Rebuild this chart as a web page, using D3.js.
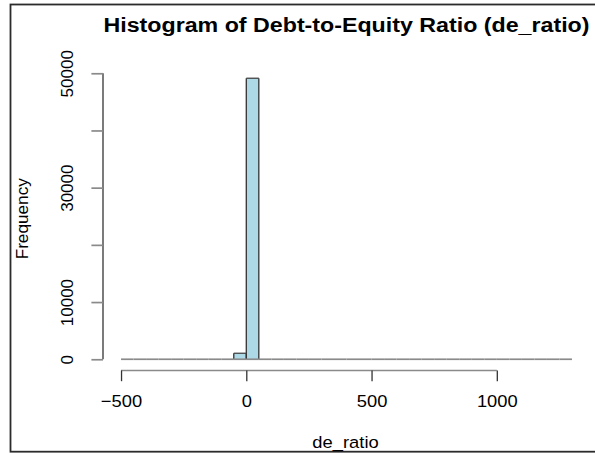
<!DOCTYPE html>
<html>
<head>
<meta charset="utf-8">
<script src="https://cdn.jsdelivr.net/npm/d3@7"></script>
<style>
  html, body { margin: 0; padding: 0; background: #fff; }
  svg { display: block; font-family: "Liberation Sans", Arial, Helvetica, sans-serif; }
</style>
</head>
<body>
<svg id="chart" width="595" height="453"></svg>
<script>
// Histogram bin breaks (width 50) and counts per bin
const binBreaks = [-500, -450, -400, -350, -300, -250, -200, -150, -100, -50, 0,
  50, 100, 150, 200, 250, 300, 350, 400, 450, 500, 550, 600, 650, 700, 750,
  800, 850, 900, 950, 1000, 1050, 1100, 1150, 1200, 1250, 1300];
const binCounts = [0, 0, 0, 0, 0, 0, 0, 0, 0, 1050, 49130,
  0, 0, 0, 0, 0, 0, 0, 0, 0, 0, 0, 0, 0, 0, 0,
  0, 0, 0, 0, 0, 0, 0, 0, 0, 0];
const xTickValues = [-500, 0, 500, 1000];
const yTickValues = [0, 10000, 20000, 30000, 40000, 50000];
const yTickLabelled = [0, 10000, 30000, 50000];

const titleText = "Histogram of Debt-to-Equity Ratio (de_ratio)";
const xLabel = "de_ratio";
const yLabel = "Frequency";

const svg = d3.select("#chart");
const plot = { left: 103, right: 590, top: 67, bottom: 370.5 };
const stretch = 1.08; // horizontal text stretch
const hLine = { stroke: "#8a8a8a", width: 1.7 };  // horizontal strokes
const vLine = { stroke: "#333", width: 1.3 };     // vertical strokes

// R-style 4% padding on both axes
const xLo = d3.min(binBreaks), xHi = d3.max(binBreaks);
const xPad = 0.04 * (xHi - xLo);
const x = d3.scaleLinear().domain([xLo - xPad, xHi + xPad]).range([plot.left, plot.right]);
const yMax = d3.max(binCounts);
const y = d3.scaleLinear().domain([-0.04 * yMax, yMax * 1.04]).range([plot.bottom, plot.top]);

// outer frame
svg.append("rect")
  .attr("x", 10.5).attr("y", 4.5)
  .attr("width", 700).attr("height", 447.2)
  .attr("fill", "none").attr("stroke", "#2b2b2b").attr("stroke-width", 1.8);

// bars
const bins = binCounts.map((c, i) => ({ x0: binBreaks[i], x1: binBreaks[i + 1], n: c }));
const gBars = svg.append("g");
gBars.selectAll("rect")
  .data(bins.filter(d => d.n > 0))
  .join("rect")
  .attr("x", d => x(d.x0)).attr("width", d => x(d.x1) - x(d.x0))
  .attr("y", d => y(d.n)).attr("height", d => y(0) - y(d.n))
  .attr("fill", "#add8e6").attr("stroke", "none");
// bar outlines: sides dark, bases and tops drawn as horizontal strokes
gBars.selectAll("path.side")
  .data(bins.filter(d => d.n > 0))
  .join("path").attr("class", "side")
  .attr("d", d => `M${x(d.x0)},${y(0)}V${y(d.n)}M${x(d.x1)},${y(0)}V${y(d.n)}`)
  .attr("fill", "none").attr("stroke", vLine.stroke).attr("stroke-width", vLine.width);
gBars.selectAll("path.top")
  .data(bins.filter(d => d.n > 0))
  .join("path").attr("class", "top")
  .attr("d", d => `M${x(d.x0)},${y(d.n)}H${x(d.x1)}`)
  .attr("fill", "none").attr("stroke", "#444").attr("stroke-width", 1.3);
gBars.selectAll("path.base")
  .data(bins)
  .join("path").attr("class", "base")
  .attr("d", d => `M${x(d.x0)},${y(0)}H${x(d.x1)}`)
  .attr("fill", "none").attr("stroke", hLine.stroke).attr("stroke-width", hLine.width);

// x axis
const gx = svg.append("g")
  .attr("transform", `translate(0,${plot.bottom})`)
  .call(d3.axisBottom(x).tickValues(xTickValues).tickSize(10.7).tickSizeOuter(0)
    .tickFormat(d3.format("d")));
gx.select(".domain")
  .attr("d", `M${x(xTickValues[0])},0H${x(xTickValues[xTickValues.length - 1])}`)
  .attr("stroke", hLine.stroke).attr("stroke-width", hLine.width);
gx.selectAll("line").attr("stroke", vLine.stroke).attr("stroke-width", vLine.width);
gx.selectAll("text")
  .attr("y", 36.5).attr("dy", 0)
  .attr("font-size", 17).attr("fill", "#000")
  .attr("font-family", "Liberation Sans, Arial, sans-serif")
  .attr("transform", `scale(${stretch},1)`);

// y axis
const gy = svg.append("g")
  .attr("transform", `translate(${plot.left},0)`)
  .call(d3.axisLeft(y).tickValues(yTickValues).tickSize(11.6).tickSizeOuter(0)
    .tickFormat(d => yTickLabelled.includes(d) ? d3.format("d")(d) : ""));
gy.select(".domain")
  .attr("d", `M0,${y(yTickValues[0])}V${y(yTickValues[yTickValues.length - 1])}`)
  .attr("stroke", vLine.stroke).attr("stroke-width", vLine.width);
gy.selectAll("line").attr("stroke", hLine.stroke).attr("stroke-width", hLine.width);
gy.selectAll("text")
  .attr("x", 0).attr("y", 0).attr("dy", 0)
  .attr("text-anchor", "middle")
  .attr("font-size", 17).attr("fill", "#000")
  .attr("font-family", "Liberation Sans, Arial, sans-serif")
  .attr("transform", "translate(-29.7,0) rotate(-90)");

// title
const cx = (plot.left + plot.right) / 2;
svg.append("text")
  .attr("x", cx).attr("y", 32)
  .attr("text-anchor", "middle")
  .attr("font-weight", "bold").attr("font-size", 19.5)
  .attr("textLength", 486).attr("lengthAdjust", "spacingAndGlyphs")
  .text(titleText);

// axis titles
svg.append("text")
  .attr("transform", `translate(${cx - 1},447.5) scale(${stretch},1)`)
  .attr("text-anchor", "middle")
  .attr("font-size", 17)
  .text(xLabel);

svg.append("text")
  .attr("transform", `translate(27.5,${(plot.top + plot.bottom) / 2}) rotate(-90)`)
  .attr("text-anchor", "middle")
  .attr("font-size", 17.2)
  .text(yLabel);
</script>
</body>
</html>
